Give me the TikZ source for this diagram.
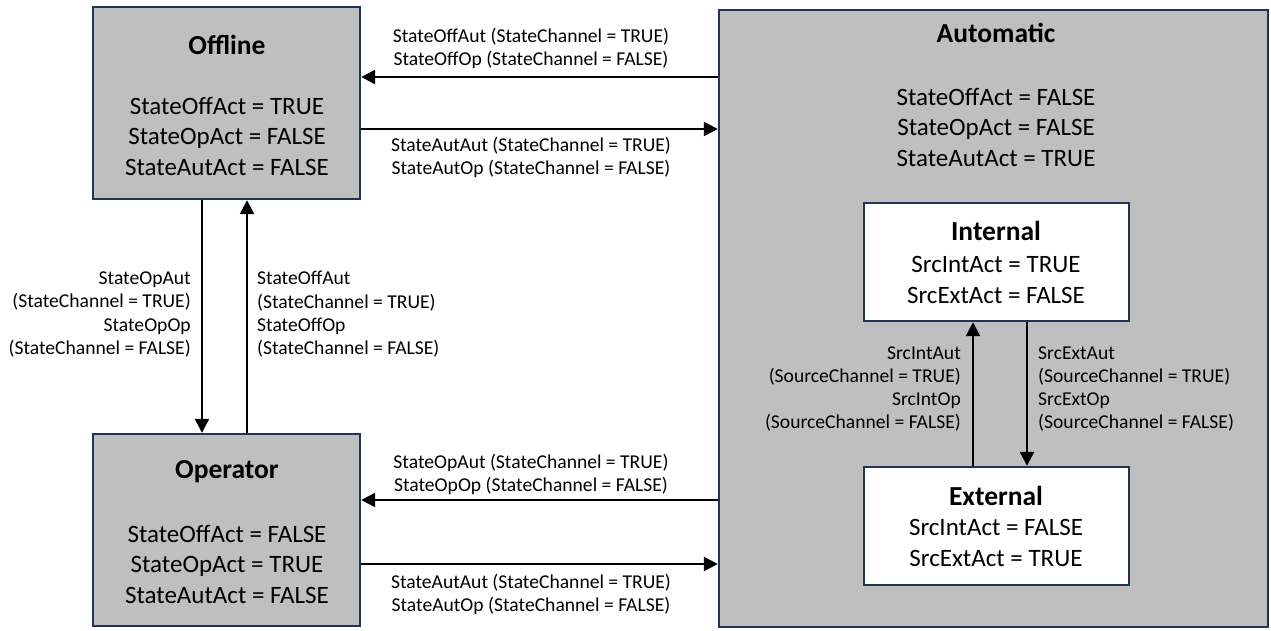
\documentclass[tikz,border=0pt]{standalone}
\usepackage{fontspec}
\setmainfont{Carlito}
\usetikzlibrary{arrows.meta}
\definecolor{frame}{HTML}{1F3456}
\definecolor{statefill}{HTML}{BFBFBF}
\tikzset{
  statebox/.style={draw=frame, line width=2.4pt, fill=statefill, rectangle, inner sep=0pt},
  srcbox/.style={draw=frame, line width=2.4pt, fill=white, rectangle, inner sep=0pt},
  title/.style={font=\fontsize{27.5}{30}\selectfont\bfseries, inner sep=0pt},
  vals/.style={font=\fontsize{25}{30.5}\selectfont, align=center, inner sep=0pt},
  lbl/.style={font=\fontsize{19.6}{23.3}\selectfont, inner sep=0pt},
  arr/.style={line width=2.4pt, -{Triangle[length=14pt,width=14pt]}}
}
\begin{document}
\begin{tikzpicture}[x=1pt,y=-1pt]
\useasboundingbox (0,0) rectangle (1271,630);

% state boxes
\node[statebox, minimum width=267pt, minimum height=192pt] (off) at (226.5,103) {};
\node[statebox, minimum width=267pt, minimum height=192pt] (op) at (226.5,530) {};
\node[statebox, minimum width=549pt, minimum height=617pt] (aut) at (993.5,318.5) {};
\node[srcbox, minimum width=265pt, minimum height=118pt] (int) at (996.5,262) {};
\node[srcbox, minimum width=265pt, minimum height=118pt] (ext) at (996.5,526) {};

% box contents
\node[title] (offT) at (227,45) {Offline};
\node[vals] (offV) at (227,136) {StateOffAct = TRUE\\StateOpAct = FALSE\\StateAutAct = FALSE};
\node[title] (opT) at (227,472) {Operator};
\node[vals] (opV) at (227,564) {StateOffAct = FALSE\\StateOpAct = TRUE\\StateAutAct = FALSE};
\node[title] (autT) at (996,33) {Automatic};
\node[vals] (autV) at (996,127) {StateOffAct = FALSE\\StateOpAct = FALSE\\StateAutAct = TRUE};
\node[title] (intT) at (996,231) {Internal};
\node[vals] (intV) at (996,280) {SrcIntAct = TRUE\\SrcExtAct = FALSE};
\node[title] (extT) at (996,496) {External};
\node[vals] (extV) at (996,543) {SrcIntAct = FALSE\\SrcExtAct = TRUE};

% transitions between Offline and Automatic
\draw[arr] (aut.west |- 0,77) -- (off.east |- 0,77);
\draw[arr] (off.east |- 0,129) -- (aut.west |- 0,129);
\node[lbl, align=center] (l1) at (531,48.5) {StateOffAut (StateChannel = TRUE)\\StateOffOp (StateChannel = FALSE)};
\node[lbl, align=center] (l2) at (531,157.5) {StateAutAut (StateChannel = TRUE)\\StateAutOp (StateChannel = FALSE)};

% transitions between Operator and Automatic
\draw[arr] (aut.west |- 0,500) -- (op.east |- 0,500);
\draw[arr] (op.east |- 0,564) -- (aut.west |- 0,564);
\node[lbl, align=center] (l3) at (531,474.5) {StateOpAut (StateChannel = TRUE)\\StateOpOp (StateChannel = FALSE)};
\node[lbl, align=center] (l4) at (531,594.5) {StateAutAut (StateChannel = TRUE)\\StateAutOp (StateChannel = FALSE)};

% transitions between Offline and Operator
\draw[arr] (off.south -| 202,0) -- (op.north -| 202,0);
\draw[arr] (op.north -| 247,0) -- (off.south -| 247,0);
\node[lbl, align=right, anchor=east] (l5) at (191,314.5) {StateOpAut\\(StateChannel = TRUE)\\StateOpOp\\(StateChannel = FALSE)};
\node[lbl, align=left, anchor=west] (l6) at (257,314.5) {StateOffAut\\(StateChannel = TRUE)\\StateOffOp\\(StateChannel = FALSE)};

% transitions between Internal and External
\draw[arr] (ext.north -| 973,0) -- (int.south -| 973,0);
\draw[arr] (int.south -| 1027,0) -- (ext.north -| 1027,0);
\node[lbl, align=right, anchor=east] (l7) at (961,389) {SrcIntAut\\(SourceChannel = TRUE)\\SrcIntOp\\(SourceChannel = FALSE)};
\node[lbl, align=left, anchor=west] (l8) at (1038,389) {SrcExtAut\\(SourceChannel = TRUE)\\SrcExtOp\\(SourceChannel = FALSE)};
\end{tikzpicture}
\end{document}
